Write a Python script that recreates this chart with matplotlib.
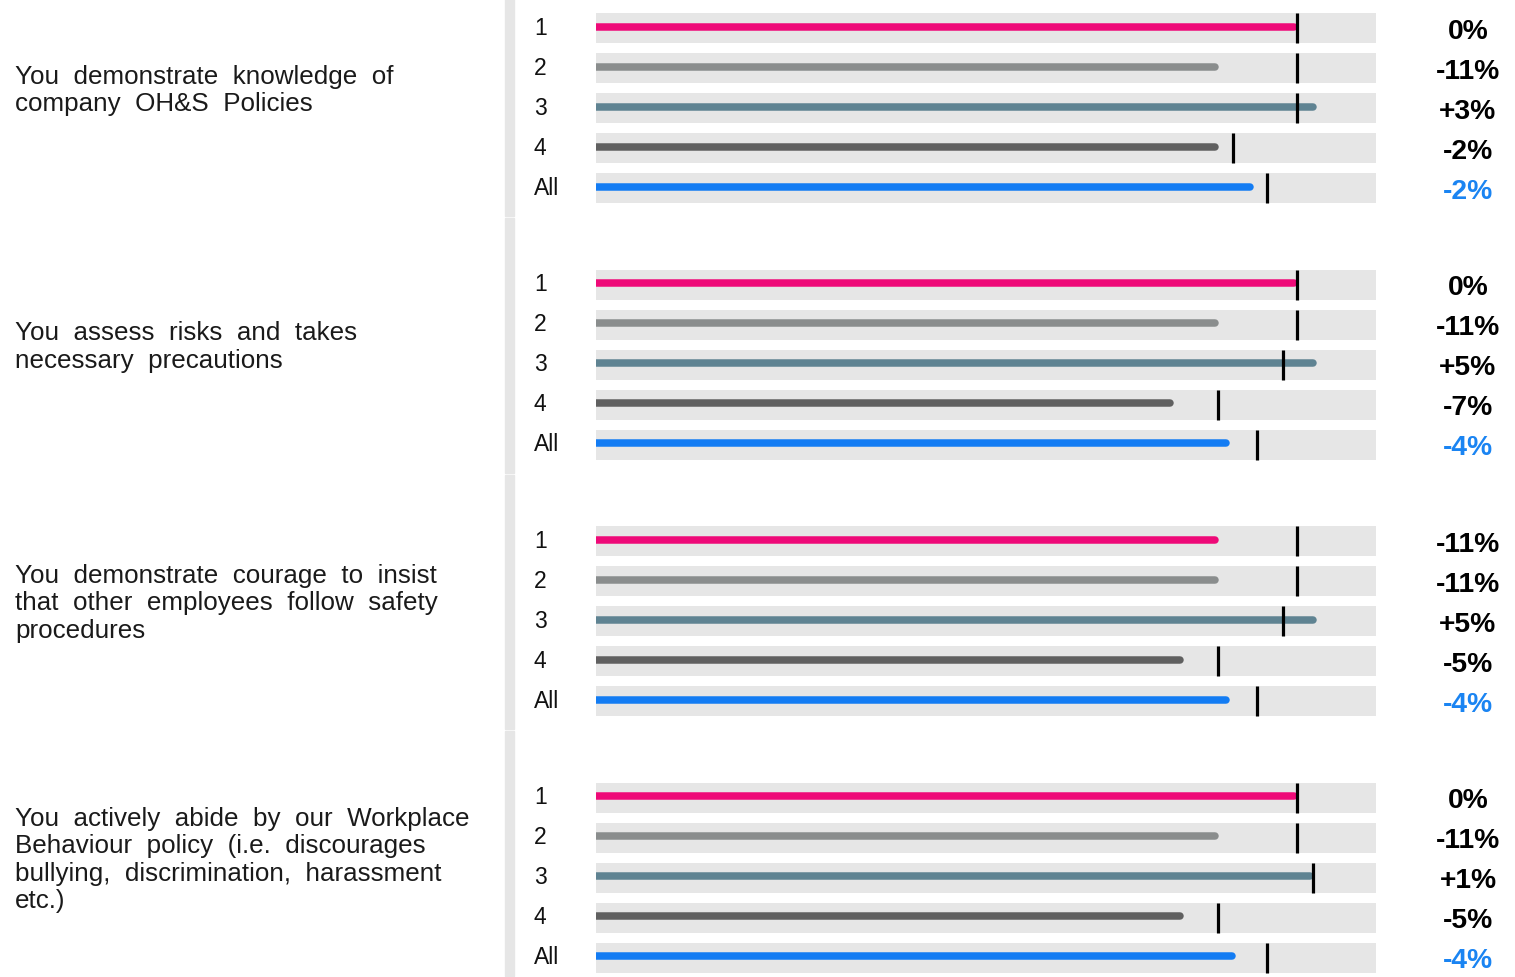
import matplotlib
matplotlib.use("Agg")
import matplotlib.pyplot as plt
from matplotlib.transforms import blended_transform_factory
from matplotlib.patches import Rectangle

# ---------------- data ----------------
questions = [
    "You demonstrate knowledge of\ncompany OH&S Policies",
    "You assess risks and takes\nnecessary precautions",
    "You demonstrate courage to insist\nthat other employees follow safety\nprocedures",
    "You actively abide by our Workplace\nBehaviour policy (i.e. discourages\nbullying, discrimination, harassment\netc.)",
]
row_labels = ["1", "2", "3", "4", "All"]
series_colors = ["#ee0a78", "#8a8d8d", "#5f8392", "#606060", "#137cf3"]

scores_q1 = [89.5, 79.3, 91.9, 79.3, 83.9]
scores_q2 = [89.5, 79.3, 91.9, 73.6, 80.8]
scores_q3 = [79.3, 79.3, 91.9, 74.9, 80.8]
scores_q4 = [89.5, 79.3, 91.5, 74.9, 81.6]

bench_q1 = [89.9, 89.9, 89.9, 81.7, 86.0]
bench_q2 = [89.9, 89.9, 88.1, 79.7, 84.7]
bench_q3 = [89.9, 89.9, 88.1, 79.7, 84.7]
bench_q4 = [89.9, 89.9, 91.9, 79.7, 86.0]

diff_q1 = ["0%", "-11%", "+3%", "-2%", "-2%"]
diff_q2 = ["0%", "-11%", "+5%", "-7%", "-4%"]
diff_q3 = ["-11%", "-11%", "+5%", "-5%", "-4%"]
diff_q4 = ["0%", "-11%", "+1%", "-5%", "-4%"]

scores = [scores_q1, scores_q2, scores_q3, scores_q4]
benches = [bench_q1, bench_q2, bench_q3, bench_q4]
diffs = [diff_q1, diff_q2, diff_q3, diff_q4]

# ---------------- layout ----------------
W, H = 1515, 978
fig = plt.figure(figsize=(W / 100, H / 100), dpi=100)
fig.patch.set_facecolor("white")

TRACK_L, TRACK_R = 596, 1376
SEC_PITCH = 256.5
ROW_PITCH = 40
TOP0 = 9
TRACK_GRAY = "#e6e6e6"

def fx(px):
    return px / W

def fy(py):
    return 1 - py / H

# separator segments
sec_bounds = [0, 218, 475, 731, H]
for k in range(4):
    y0 = sec_bounds[k] + (1 if k > 0 else 0)
    y1 = sec_bounds[k + 1] - 1
    fig.patches.append(Rectangle((fx(505), fy(y1)), fx(9), (y1 - y0) / H,
                                 transform=fig.transFigure, color=TRACK_GRAY,
                                 zorder=0))

for k in range(4):
    top = TOP0 + SEC_PITCH * k
    height = ROW_PITCH * 5
    ax = fig.add_axes([fx(TRACK_L), fy(top + height), fx(TRACK_R - TRACK_L), height / H])
    ax.set_xlim(0, 100)
    ax.set_ylim(4.5, -0.5)
    ax.axis("off")
    rows = list(range(len(row_labels)))
    ax.barh(rows, [100] * len(rows), height=0.75, color=TRACK_GRAY, zorder=1)
    for i, (v, b, c) in enumerate(zip(scores[k], benches[k], series_colors)):
        ax.plot([0, v], [i - 0.03, i - 0.03], color=c, lw=5.4,
                solid_capstyle="round", zorder=2)
        ax.vlines(b, i - 0.375, i + 0.375, color="black", lw=2.3, zorder=3)
    tr = blended_transform_factory(fig.transFigure, ax.transData)
    for i, lab in enumerate(row_labels):
        ax.text(fx(534), i - 0.02, lab, transform=tr, ha="left", va="center",
                fontsize=16.5, color="#111111", family="Liberation Sans")
        col = "#1a84f2" if lab == "All" else "black"
        ax.text(fx(1468), i + 0.07, diffs[k][i], transform=tr, ha="center",
                va="center", fontsize=20.3, fontweight="bold", color=col,
                family="Liberation Sans")
    # question text (wide word spacing as in the reference)
    center_px = top + height / 2 - 18.5
    fig.text(fx(15), fy(center_px), questions[k].replace(" ", "  "),
             ha="left", va="center", fontsize=18.7, color="#1a1a1a",
             family="Liberation Sans", linespacing=1.17)

fig.savefig("out.png", dpi=100, facecolor="white")
